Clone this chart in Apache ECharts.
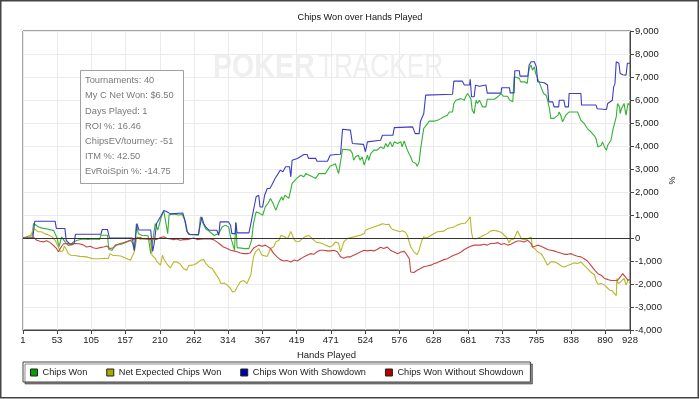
<!DOCTYPE html>
<html><head><meta charset="utf-8">
<script src="https://cdn.jsdelivr.net/npm/echarts@6/dist/echarts.min.js"></script>
<style>html,body{margin:0;padding:0;background:#fff;}#chart{width:700px;height:399px;}</style>
</head><body><div id="chart"></div>
<script>
// ---- Data ----
const handTicks = [1,53,105,157,210,262,314,367,419,471,524,576,628,681,733,785,838,890,928];

const chipsWonHands = [
1,9,15,17,20,25,30,40,48,50,
53,56,58,60,63,66,70,74,78,84,
92,100,110,118,120,130,132,137,142,150,
158,165,168,171,174,177,182,192,196,199,
203,207,212,216,219,222,224,231,238,244,
248,251,254,269,272,275,280,285,293,300,
305,310,315,318,321,324,326,328,340,346,
350,353,357,363,367,371,375,379,382,384,
387,389,392,396,398,401,404,407,409,412,
415,419,422,425,430,433,438,443,448,450,
453,458,463,466,470,474,478,483,486,489,
501,504,506,509,513,516,519,522,524,527,
529,532,537,542,547,550,552,555,558,562,
565,568,573,578,580,583,588,593,596,601,
603,606,608,611,613,619,621,629,634,639,
644,649,652,654,657,659,662,665,670,675,
677,680,682,685,687,690,691,693,695,698,
700,703,708,710,721,726,731,735,741,744,
749,751,759,761,764,767,771,774,777,779,
782,784,787,789,792,794,796,797,800,802,
805,807,810,812,815,818,820,823,825,828,
830,833,835,838,843,848,851,853,858,863,
868,871,874,876,879,881,884,886,889,892,
894,897,899,902,904,907,909,912,913,915,
919,921,922,925,928];
const chipsWonValues = [
0,80,100,630,550,480,430,380,320,270,
0,-380,-300,50,0,-200,-320,-300,-170,-100,
-40,-60,-40,-60,120,120,-500,-530,-300,-280,
-200,-100,-200,-530,600,200,120,100,-680,-680,
630,350,900,1180,1130,190,1000,1050,1000,1020,
780,300,150,120,920,700,400,300,110,200,
480,560,480,50,30,-530,670,-420,-460,-460,
-100,630,1140,1060,990,1350,1500,1720,1640,1430,
1210,1350,1570,1790,1640,1860,1930,1720,1640,2370,
2300,2590,2590,2730,2660,2800,2730,2660,2590,2520,
2800,2800,2800,2950,3120,3170,3230,2800,2800,3860,
3820,3670,3380,3530,3600,3380,3530,3170,3170,3600,
3380,3670,3820,3820,3960,4030,3890,4110,3960,4180,
3960,4180,4110,4180,3960,4220,3820,3530,3310,3240,
3120,3310,3820,4400,4760,4980,5080,5080,5120,5190,
5270,5340,5480,5560,5480,5850,5990,6060,6060,5990,
6140,6280,6350,6060,5560,5410,5630,5990,5850,5990,
6000,5700,5700,6030,6030,6140,6280,6160,6160,6000,
5920,7010,6940,6790,6870,6790,6720,7370,7520,7300,
7440,7150,7080,6790,6570,6500,6280,6350,6210,6000,
5630,5200,5120,5200,5120,5340,5480,5270,5050,4980,
5340,5410,5480,5440,5480,5480,5410,5120,4980,4760,
4620,4550,4430,4330,3960,3960,4030,4180,3960,3820,
4030,4100,4250,4720,4760,5270,5850,5700,5410,5630,
5850,5480,5340,5850,5780];

const netExpectedHands = [
1,9,14,17,19,24,29,34,40,45,
47,50,52,55,58,62,64,66,68,70,
74,80,88,98,101,108,119,126,131,134,
138,150,160,165,168,171,175,180,186,195,
198,202,206,211,214,216,220,223,226,231,
236,241,246,249,251,254,257,262,266,269,
272,277,280,285,290,295,300,303,308,313,
318,321,323,325,328,333,338,343,346,349,
351,353,356,361,364,366,374,379,384,387,
392,395,400,405,407,410,412,415,418,423,
428,433,438,441,448,458,463,470,474,478,
483,486,488,491,496,506,516,522,524,530,
540,545,550,555,560,562,565,570,576,580,
585,588,590,593,598,601,603,606,608,611,
613,618,624,634,644,649,659,664,670,676,
680,682,684,686,688,692,698,705,710,715,
720,726,731,736,740,743,746,750,753,756,
759,762,766,771,774,777,779,784,787,792,
795,797,802,805,807,813,818,823,828,833,
838,843,848,853,858,863,868,874,876,879,
884,889,892,894,897,899,901,904,907,908,
910,914,917,919,922,925,928];
const netExpectedValues = [
0,30,190,430,410,270,270,190,130,60,
130,-100,-170,-390,-600,-560,-350,-300,-530,-680,
-750,-760,-800,-820,-890,-900,-900,-880,-900,-680,
-750,-780,-900,-970,-900,-600,50,-60,-20,-60,
-750,-850,-1040,-1180,-750,-900,-1100,-1180,-1300,-1040,
-1040,-1130,-1330,-1330,-1400,-1200,-1250,-1160,-1110,-1040,
-970,-940,-1100,-1260,-1330,-1550,-1760,-1980,-1960,-2050,
-2200,-2350,-2390,-2300,-2130,-1900,-1850,-1980,-1980,-1600,
-1180,-820,-600,-460,-400,-750,-800,-460,-380,-170,
-100,120,50,-30,-20,280,340,-60,-160,-150,
-20,80,100,20,-170,-240,-310,-390,-320,-170,
-230,-600,-680,-170,-25,50,120,190,340,410,
510,560,620,590,600,480,380,340,270,320,
250,120,-100,-380,-600,-680,-720,-520,-310,-50,
50,0,120,270,300,410,480,560,620,640,
770,830,920,250,-25,-40,20,120,190,300,
340,300,250,120,20,-200,-80,-50,100,310,
150,-30,-70,-50,-30,50,-390,-500,-600,-680,
-800,-900,-1180,-1220,-1040,-1040,-1110,-1220,-1260,-1200,
-1140,-1080,-1110,-1040,-1190,-1330,-1480,-1610,-1840,-2010,
-1980,-2040,-2130,-2200,-2270,-2340,-2300,-2410,-2500,-1760,
-1980,-1900,-1840,-1760,-2050,-1840,-1760];

const showdownHands = [
1,16,19,50,52,65,67,72,79,81,
120,122,130,133,168,171,173,175,178,196,
199,201,205,211,216,220,226,245,249,252,
256,269,272,274,277,280,285,297,300,302,
315,318,320,325,326,328,346,348,352,355,
357,361,363,367,370,374,378,381,386,389,
394,398,402,408,410,412,420,430,435,437,
448,450,466,470,478,486,489,501,504,521,
524,527,547,550,566,568,596,600,606,608,
613,616,657,659,672,675,683,684,686,690,
692,698,708,710,731,732,744,745,751,752,
759,760,772,774,777,782,785,787,797,802,
804,810,812,819,820,827,829,834,835,853,
854,876,878,892,894,901,903,905,907,911,
913,917,920,922,924,928];
const showdownValues = [
0,0,730,730,410,410,-100,-250,-250,160,
160,370,370,0,0,-550,-550,630,350,350,
-580,-300,630,920,1200,1150,1050,1090,700,270,
150,150,630,920,630,480,340,340,120,700,
700,550,190,190,670,225,225,485,1060,1500,
1790,1860,1350,1350,1860,2150,2150,2300,2590,2660,
2950,2880,3100,3100,2660,3380,3460,3630,3630,3460,
3460,3340,3340,3600,3630,3640,4730,4690,4110,4070,
3750,4180,4250,4470,4470,4800,4830,4540,4540,5080,
5400,6210,6250,6820,6820,6650,6650,6900,6140,6140,
6640,6600,6650,6300,6300,6530,6530,6310,6310,7270,
7270,7040,7040,7520,7660,7660,7440,6790,6750,6650,
5920,5920,5700,5700,5990,5990,5700,5700,6280,6280,
5780,5780,5620,5590,5850,5990,6570,6700,7660,7600,
7150,7100,7100,7080,7600,7600];

const noShowdownHands = [
1,12,17,22,27,32,37,42,47,52,
55,57,60,63,66,70,75,80,87,93,
98,104,108,113,119,124,129,134,139,144,
149,154,160,165,170,175,180,185,190,195,
200,205,211,216,221,226,231,236,241,246,
251,256,262,267,272,277,282,287,292,297,
302,307,313,318,323,328,333,338,343,348,
351,354,356,361,366,371,374,379,384,389,
394,399,404,410,415,420,425,430,435,440,
445,450,455,460,466,471,476,481,486,491,
496,501,506,511,516,522,527,532,537,542,
547,552,557,562,567,573,578,583,586,589,
591,593,595,598,603,608,613,618,624,629,
634,639,644,649,654,659,665,670,675,680,
685,690,695,700,705,710,715,721,726,731,
736,741,746,751,756,761,766,772,777,779,
783,787,792,797,802,807,812,817,822,828,
833,838,843,848,853,858,863,868,874,879,
884,889,894,899,904,909,914,917,920,923,
925,928];
const noShowdownValues = [
0,0,40,-100,-140,-170,-120,-190,-310,-450,
-600,-520,-360,-250,-220,-240,-300,-240,-250,-300,
-390,-360,-420,-460,-420,-390,-350,-460,-420,-310,
-240,-210,-150,-100,-70,0,25,-40,-40,-70,
-40,-70,25,50,-25,-40,-70,-40,-100,-70,
-70,-40,0,-70,-50,-40,-30,-40,-70,-170,
-270,-390,-460,-530,-560,-600,-650,-680,-680,-650,
-530,-420,-360,-310,-360,-310,-360,-460,-680,-820,
-940,-1000,-980,-1040,-960,-1000,-900,-820,-750,-680,
-710,-600,-530,-530,-560,-560,-530,-600,-820,-880,
-820,-820,-750,-680,-610,-530,-560,-530,-560,-500,
-400,-460,-390,-530,-600,-680,-610,-580,-680,-750,
-900,-1480,-1550,-1500,-1400,-1330,-1250,-1220,-1180,-1110,
-1070,-1000,-940,-900,-820,-750,-680,-610,-500,-420,
-360,-310,-310,-310,-270,-310,-240,-240,-200,-280,
-240,-310,-270,-200,-130,-130,-170,-100,-240,-390,
-360,-310,-360,-420,-500,-530,-560,-610,-650,-710,
-710,-680,-750,-790,-820,-900,-1000,-1180,-1400,-1550,
-1620,-1760,-1800,-1850,-1850,-1840,-1660,-1550,-1660,-1700,
-1840,-1800];

const statsLines = ['Tournaments: 40','My C Net Won: $6.50','Days Played: 1','ROI %: 16.46','ChipsEV/tourney: -51','ITM %: 42.50','EvRoiSpin %: -14.75'];

// ---- Chart ----
function pairs(h, v, name) {
  if (h.length !== v.length) throw new Error('length mismatch in ' + name + ': ' + h.length + ' vs ' + v.length);
  return h.map((x, i) => [x, v[i]]);
}
const FONT = '"Liberation Sans", Arial, sans-serif';
const chart = echarts.init(document.getElementById('chart'), null, {renderer: 'canvas'});

function lineSeries(name, hands, values, lineColor, extra) {
  return Object.assign({
    name: name, type: 'line', data: pairs(hands, values, name),
    showSymbol: false, symbol: 'none', animation: false,
    lineStyle: {width: 1.1, color: lineColor}, itemStyle: {color: lineColor},
    emphasis: {disabled: true}
  }, extra || {});
}

const statTexts = statsLines.map((t, i) => ({
  type: 'text', x: 85, y: 80.7 + i * 15.17, z: 11,
  style: {text: t, fontSize: 9.3, fontFamily: FONT, fill: '#7a7a7a', verticalAlign: 'middle', align: 'left'}
}));

const option = {
  animation: false,
  backgroundColor: '#fff',
  title: {
    text: 'Chips Won over Hands Played', left: 355, top: 8, textAlign: 'center',
    textStyle: {fontSize: 9.2, fontWeight: 'normal', color: '#111', fontFamily: FONT}
  },
  grid: {left: 23, right: 70, top: 31, bottom: 69, show: true, borderColor: '#444', borderWidth: 1, backgroundColor: 'transparent'},
  xAxis: {
    type: 'value', min: 1, max: 928,
    name: 'Hands Played', nameLocation: 'middle', nameGap: 17,
    nameTextStyle: {fontSize: 9.5, color: '#222', fontFamily: FONT},
    axisLine: {onZero: false, lineStyle: {color: '#444'}},
    axisTick: {customValues: handTicks, length: 4, lineStyle: {color: '#444'}},
    axisLabel: {customValues: handTicks, fontSize: 9.5, color: '#222', margin: 5, fontFamily: FONT, hideOverlap: false},
    splitLine: {show: true, lineStyle: {color: '#ebebeb'}}
  },
  yAxis: {
    type: 'value', position: 'right', min: -4000, max: 9000, interval: 1000,
    name: '%', nameLocation: 'middle', nameGap: 37, nameRotate: -90, nameMoveOverlap: false,
    nameTextStyle: {fontSize: 9, color: '#222', fontFamily: FONT},
    axisLine: {show: true, onZero: false, lineStyle: {color: '#444'}},
    axisTick: {show: true, length: 4, lineStyle: {color: '#444'}},
    axisLabel: {formatter: v => v.toLocaleString('en-US'), fontSize: 9.5, color: '#222', margin: 5, fontFamily: FONT},
    splitLine: {show: true, lineStyle: {color: '#ebebeb'}}
  },
  legend: {
    left: 23, top: 362, orient: 'horizontal',
    itemWidth: 7, itemHeight: 7, itemGap: 19, icon: 'rect',
    padding: [6, 7, 5, 7],
    borderColor: '#444', borderWidth: 1, backgroundColor: '#fff',
    shadowColor: 'rgba(0,0,0,0.45)', shadowBlur: 0, shadowOffsetX: 2, shadowOffsetY: 2,
    textStyle: {fontSize: 9.2, color: '#222', fontFamily: FONT},
    itemStyle: {borderColor: '#222', borderWidth: 1},
    selectedMode: false,
    data: [
      {name: 'Chips Won', itemStyle: {color: '#00a000'}},
      {name: 'Net Expected Chips Won', itemStyle: {color: '#a8a800'}},
      {name: 'Chips Won With Showdown', itemStyle: {color: '#0000aa'}},
      {name: 'Chips Won Without Showdown', itemStyle: {color: '#b00000'}}
    ]
  },
  graphic: [
    {type: 'text', x: 213, y: 68, z: 0, scaleX: 0.84,
     style: {text: 'POKER', fontSize: 34, fontWeight: 'bold', fontFamily: FONT, fill: '#efefef', verticalAlign: 'middle', align: 'left'}},
    {type: 'text', x: 318, y: 68, z: 0, scaleX: 0.77,
     style: {text: 'TRACKER', fontSize: 34, fontFamily: FONT, fill: '#efefef', verticalAlign: 'middle', align: 'left'}},
    {type: 'rect', z: 10, shape: {x: 80.5, y: 70.5, width: 103, height: 113},
     style: {fill: '#fff', stroke: '#a0a0a0', lineWidth: 1}},
    ...statTexts,
    {type: 'rect', z: 100, shape: {x: 0.75, y: 0.75, width: 697.5, height: 397}, style: {fill: 'none', stroke: '#444', lineWidth: 1.5}}
  ],
  series: [
    lineSeries('Chips Won', chipsWonHands, chipsWonValues, '#33b233', {
      markLine: {silent: true, symbol: 'none', animation: false, label: {show: false},
        lineStyle: {color: '#333', width: 1, type: 'solid'}, data: [{yAxis: 0}]}
    }),
    lineSeries('Net Expected Chips Won', netExpectedHands, netExpectedValues, '#b8b828'),
    lineSeries('Chips Won With Showdown', showdownHands, showdownValues, '#3d3dc4'),
    lineSeries('Chips Won Without Showdown', noShowdownHands, noShowdownValues, '#c84444')
  ]
};
chart.setOption(option);
</script>
</body></html>
